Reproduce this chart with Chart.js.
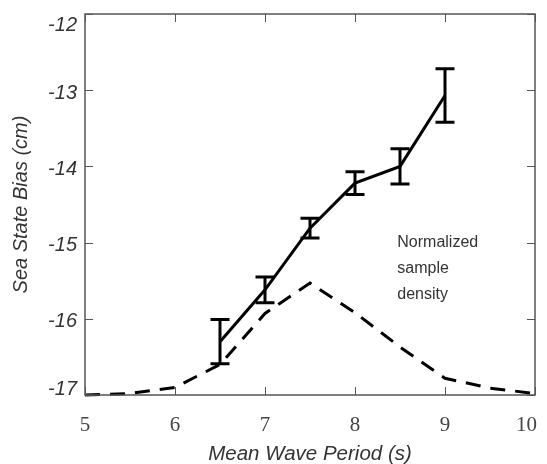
<!DOCTYPE html>
<html>
<head>
<meta charset="utf-8">
<script src="https://cdn.jsdelivr.net/npm/chart.js@4.4.1/dist/chart.umd.min.js"></script>
<style>
  html, body { margin: 0; padding: 0; background: #fff; }
  #wrap { width: 547px; height: 464px; }
</style>
</head>
<body>
<div id="wrap"><canvas id="chart" width="547" height="464"></canvas></div>
<script>
// Data
const periods = [6.5, 7, 7.5, 8, 8.5, 9];
const biasValues = [-16.3, -15.62, -14.81, -14.22, -14.0, -13.07];
const biasErrors = [0.29, 0.17, 0.13, 0.15, 0.23, 0.35];

const densityPeriods = [5, 5.5, 6, 6.5, 7, 7.5, 8, 8.5, 9, 9.5, 10];
const densityValues = [-17.0, -16.98, -16.9, -16.6, -15.93, -15.53, -15.92, -16.37, -16.78, -16.91, -16.98];

const xTicks = [5, 6, 7, 8, 9, 10];
const yTicks = [-17, -16, -15, -14, -13, -12];
const noteLines = ['Normalized', 'sample', 'density'];

const sans = '"Liberation Sans", Arial, sans-serif';
const serif = '"Liberation Serif", "Times New Roman", serif';

// frame, inward ticks, tick labels, error bars and the annotation
const extras = {
    id: 'extras',
    afterDatasetsDraw(chart) {
        const ctx = chart.ctx;
        const xs = chart.scales.x, ys = chart.scales.y;
        const a = chart.chartArea;

        // error bars
        ctx.save();
        ctx.strokeStyle = '#000';
        ctx.lineWidth = 3;
        periods.forEach((p, i) => {
            const px = xs.getPixelForValue(p);
            const top = ys.getPixelForValue(biasValues[i] + biasErrors[i]);
            const bot = ys.getPixelForValue(biasValues[i] - biasErrors[i]);
            ctx.beginPath();
            ctx.moveTo(px, top); ctx.lineTo(px, bot);
            ctx.moveTo(px - 9.5, top); ctx.lineTo(px + 9.5, top);
            ctx.moveTo(px - 9.5, bot); ctx.lineTo(px + 9.5, bot);
            ctx.stroke();
        });
        ctx.restore();

        // box + ticks
        ctx.save();
        ctx.strokeStyle = '#555';
        ctx.lineWidth = 1.5;
        ctx.strokeRect(a.left, a.top, a.right - a.left, a.bottom - a.top);
        ctx.lineWidth = 1;
        ctx.beginPath();
        xTicks.forEach(t => {
            const px = Math.round(xs.getPixelForValue(t)) + 0.5;
            ctx.moveTo(px, a.bottom); ctx.lineTo(px, a.bottom - 8);
            ctx.moveTo(px, a.top); ctx.lineTo(px, a.top + 8);
        });
        yTicks.forEach(t => {
            const py = Math.round(ys.getPixelForValue(t)) + 0.5;
            ctx.moveTo(a.left, py); ctx.lineTo(a.left + 8, py);
            ctx.moveTo(a.right, py); ctx.lineTo(a.right - 8, py);
        });
        ctx.stroke();
        ctx.restore();

        // tick labels (end labels kept inside the figure, like the original)
        ctx.save();
        ctx.textBaseline = 'middle';
        ctx.fillStyle = '#333';
        ctx.font = 'italic 20px ' + sans;
        ctx.textAlign = 'right';
        yTicks.forEach(t => {
            const py = Math.min(Math.max(ys.getPixelForValue(t) + 3, a.top + 11), a.bottom - 6);
            ctx.fillText(String(t).replace('-', '-'), a.left - 8, py);
        });
        ctx.fillStyle = '#444';
        ctx.font = '21px ' + serif;
        ctx.textAlign = 'center';
        xTicks.forEach(t => {
            const s = String(t);
            const half = ctx.measureText(s).width / 2;
            const px = Math.min(xs.getPixelForValue(t), chart.width - 10 - half);
            ctx.fillText(s, px, a.bottom + 30);
        });
        ctx.restore();

        // annotation
        ctx.save();
        ctx.fillStyle = '#333';
        ctx.font = '16px ' + sans;
        ctx.textBaseline = 'middle';
        const nx = xs.getPixelForValue(8.47);
        const ny = ys.getPixelForValue(-15.0);
        noteLines.forEach((s, i) => ctx.fillText(s, nx, ny + i * 26));
        ctx.restore();
    }
};

new Chart(document.getElementById('chart'), {
    type: 'line',
    data: {
        datasets: [
            {
                label: 'Sea state bias',
                data: periods.map((p, i) => ({ x: p, y: biasValues[i] })),
                borderColor: '#000',
                borderWidth: 3,
                pointRadius: 0,
                fill: false,
                tension: 0,
            },
            {
                label: 'Normalized sample density',
                data: densityPeriods.map((p, i) => ({ x: p, y: densityValues[i] })),
                borderColor: '#000',
                borderWidth: 3,
                borderDash: [15, 10],
                pointRadius: 0,
                fill: false,
                tension: 0,
            }
        ]
    },
    options: {
        responsive: false,
        animation: false,
        clip: false,
        layout: { padding: { top: 14, right: 12, left: 0, bottom: 0 } },
        plugins: { legend: { display: false }, tooltip: { enabled: false } },
        scales: {
            x: {
                type: 'linear',
                min: 5, max: 10,
                afterBuildTicks: (s) => { s.ticks = xTicks.map(v => ({ value: v })); },
                afterFit: (s) => { s.height = 69; s.paddingLeft = 0; s.paddingRight = 0; },
                grid: { display: false, drawTicks: false, tickLength: 0 },
                border: { display: false },
                ticks: { display: false },
                title: {
                    display: true,
                    text: 'Mean Wave Period (s)',
                    color: '#333',
                    padding: { top: 0, bottom: 0 },
                    font: { family: sans, size: 20.5, style: 'italic', lineHeight: 0.9 },
                }
            },
            y: {
                type: 'linear',
                min: -17, max: -12,
                afterBuildTicks: (s) => { s.ticks = yTicks.map(v => ({ value: v })); },
                afterFit: (s) => { s.width = 85; s.paddingTop = 0; s.paddingBottom = 0; },
                grid: { display: false, drawTicks: false, tickLength: 0 },
                border: { display: false },
                ticks: { display: false },
                title: {
                    display: true,
                    text: 'Sea State Bias (cm)',
                    color: '#333',
                    padding: { top: 9, bottom: 0 },
                    font: { family: sans, size: 20, style: 'italic' },
                }
            }
        }
    },
    plugins: [extras]
});
</script>
</body>
</html>
